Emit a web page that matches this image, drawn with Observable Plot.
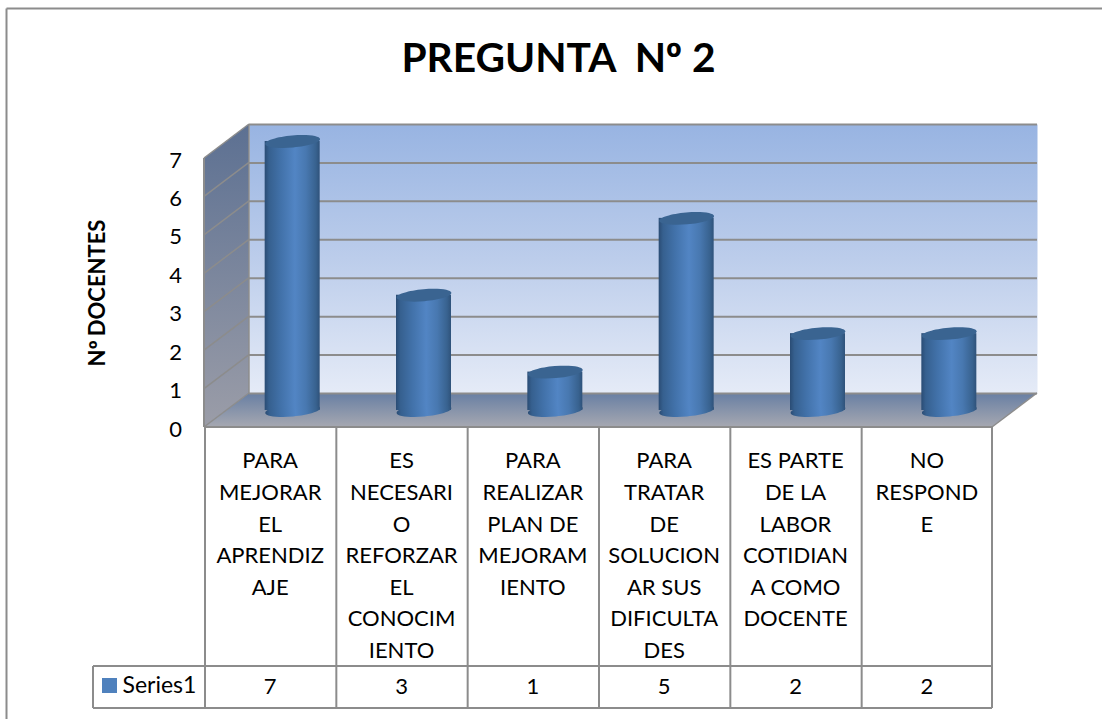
<!DOCTYPE html>
<html><head><meta charset="utf-8">
<script src="https://cdn.jsdelivr.net/npm/d3@7"></script>
<script src="https://cdn.jsdelivr.net/npm/@observablehq/plot@0.6"></script>
<style>
@font-face{font-family:"OrdMark";src:local("Noto Sans Regular"),local("NotoSans-Regular"),local("Noto Sans"),local("Open Sans Regular"),local("OpenSans-Regular"),local("DejaVu Sans");font-weight:400;unicode-range:U+00BA}
@font-face{font-family:"OrdMark";src:local("Noto Sans Bold"),local("NotoSans-Bold"),local("Open Sans Bold"),local("OpenSans-Bold"),local("DejaVu Sans Bold");font-weight:700;unicode-range:U+00BA}
html,body{margin:0;padding:0;background:#fff;overflow:hidden}svg{display:block}
</style>
</head><body><div id="chart"></div>
<script>
const categories = ["A","B","C","D","E","F"];
const labels = [
  "PARA\nMEJORAR\nEL\nAPRENDIZ\nAJE",
  "ES\nNECESARI\nO\nREFORZAR\nEL\nCONOCIM\nIENTO",
  "PARA\nREALIZAR\nPLAN DE\nMEJORAM\nIENTO",
  "PARA\nTRATAR\nDE\nSOLUCION\nAR SUS\nDIFICULTA\nDES",
  "ES PARTE\nDE LA\nLABOR\nCOTIDIAN\nA COMO\nDOCENTE",
  "NO\nRESPOND\nE"
];
const values = [7,3,1,5,2,2];
const yTicks = [0,1,2,3,4,5,6,7];
const seriesName = "Series1";
const titleText = "PREGUNTA  Nº 2";
const yTitle = "Nº DOCENTES";

const rows = categories.map((c,i)=>({c,label:labels[i],v:values[i]}));
const DX=45, DY=-34, LINE="#8c8c8c", FONT="OrdMark, Lato, Carlito, 'Open Sans', sans-serif";
const ellipse = (rx,ry)=>({draw(p){
  const k=0.5523;
  p.moveTo(rx,0);
  p.bezierCurveTo(rx,ry*k,rx*k,ry,0,ry);
  p.bezierCurveTo(-rx*k,ry,-rx,ry*k,-rx,0);
  p.bezierCurveTo(-rx,-ry*k,-rx*k,-ry,0,-ry);
  p.bezierCurveTo(rx*k,-ry,rx,-ry*k,rx,0);
  p.closePath();
}});
function grad(id,stops,horizontal){
  return `<linearGradient id="${id}" x1="0" y1="0" x2="${horizontal?1:0}" y2="${horizontal?0:1}">`+
    stops.map(([o,c])=>`<stop offset="${o}" stop-color="${c}"/>`).join("")+`</linearGradient>`;
}
function chrome(index,scales,vals,dims){
  const {x,y}=scales, {marginLeft:l,width:w,marginRight:r,height:h,marginBottom:mb}=dims;
  const R=w-r, B=h-mb;
  const g=d3.create("svg:g");
  g.append("defs").html(
    grad("wall",[[0,"#98b4e2"],[0.5,"#bccdeb"],[1,"#e5ebf7"]])+
    grad("side",[[0,"#5c7092"],[1,"#9b9da8"]])+
    grad("floor",[[0,"#687fa3"],[1,"#a6a8b1"]])+
    grad("cyl",[[0,"#2a4c74"],[0.08,"#36608f"],[0.3,"#4272aa"],[0.55,"#5285c4"],[0.75,"#4878b0"],[0.93,"#38628f"],[1,"#2f527a"]],true)
  );
  const T=y(7);
  const poly=(pts,fill)=>g.append("polygon").attr("points",pts.map(p=>p.join(",")).join(" ")).attr("fill",fill);
  poly([[l,T],[l+DX,T+DY],[l+DX,B+DY],[l,B]],"url(#side)");
  poly([[l,B],[l+DX,B+DY],[R+DX,B+DY],[R,B]],"url(#floor)");
  const ln=(a,b,c,d,sw=2)=>g.append("line").attr("x1",a).attr("y1",b).attr("x2",c).attr("y2",d).attr("stroke",LINE).attr("stroke-width",sw);
  for(const t of yTicks) ln(l,y(t),l+DX,y(t)+DY,1.5);
  ln(l,T,l,B,2); ln(l+DX,T+DY,l+DX,B+DY,1.5);
  ln(R,B,R+DX,B+DY,1.5);
  const rowY=666, endY=708;
  ln(l,B,R,B,2);
  categories.forEach(c=>ln(x(c)+1,B,x(c)+1,endY));
  ln(R,B,R,endY);
  ln(93,rowY,R,rowY); ln(93,endY,R,endY); ln(93,rowY,93,endY);
  ln(6.5,8.5,w,8.5); ln(6.5,8.5,6.5,h);
  g.append("rect").attr("x",102).attr("y",678).attr("width",15).attr("height",15).attr("fill","#4f81bd");
  return g.node();
}
const txt={fill:"#000",fontFamily:FONT,stroke:null};
const bandHalf=(1102-204-110)/6/2;
const plot=Plot.plot({
  width:1102,height:719,
  marginLeft:204,marginRight:110,marginTop:158,marginBottom:292,
  x:{type:"band",domain:categories,padding:0,round:false,axis:null},
  y:{domain:[0,7],axis:null},
  marks:[
    Plot.frame({fill:"url(#wall)",stroke:null,dx:DX,dy:DY}),
    chrome,
    Plot.ruleY(yTicks,{y:d=>d,stroke:LINE,strokeWidth:2,dx:DX,dy:DY}),
    Plot.barY(rows,{x:"c",y1:0,y2:"v",fill:"url(#cyl)",dx:DX/2,dy:DY/2,insetLeft:bandHalf-27.5,insetRight:bandHalf-27.5}),
    Plot.dot(rows,{x:"c",y:()=>0,symbol:ellipse(27.5,6),fill:"url(#cyl)",stroke:null,rotate:-5,dx:DX/2,dy:DY/2}),
    Plot.dot(rows,{x:"c",y:"v",symbol:ellipse(27.5,6),fill:"#3a6491",stroke:null,rotate:-5,dx:DX/2,dy:DY/2}),
    Plot.text(yTicks,{y:d=>d,text:d=>String(d),frameAnchor:"left",dx:-29,dy:2,...txt,fontSize:22,textAnchor:"middle"}),
    Plot.text([yTitle],{text:d=>d,frameAnchor:"left",dx:-107,rotate:-90,...txt,fontSize:22,fontWeight:"bold",textAnchor:"middle"}),
    Plot.text([titleText],{text:d=>d,frameAnchor:"top",dx:-40,dy:-115,...txt,fontSize:40.7,fontWeight:"bold",textAnchor:"middle"}),
    Plot.text(rows,{x:"c",text:"label",frameAnchor:"bottom",lineAnchor:"top",dy:18.5,lineHeight:1.436,...txt,fontSize:22}),
    Plot.text(rows,{x:"c",text:d=>String(d.v),frameAnchor:"bottom",dy:266,...txt,fontSize:22}),
    Plot.text([seriesName],{text:d=>d,frameAnchor:"bottom-left",dx:-82,dy:265,textAnchor:"start",...txt,fontSize:23})
  ]
});
document.getElementById("chart").append(plot);
</script></body></html>
